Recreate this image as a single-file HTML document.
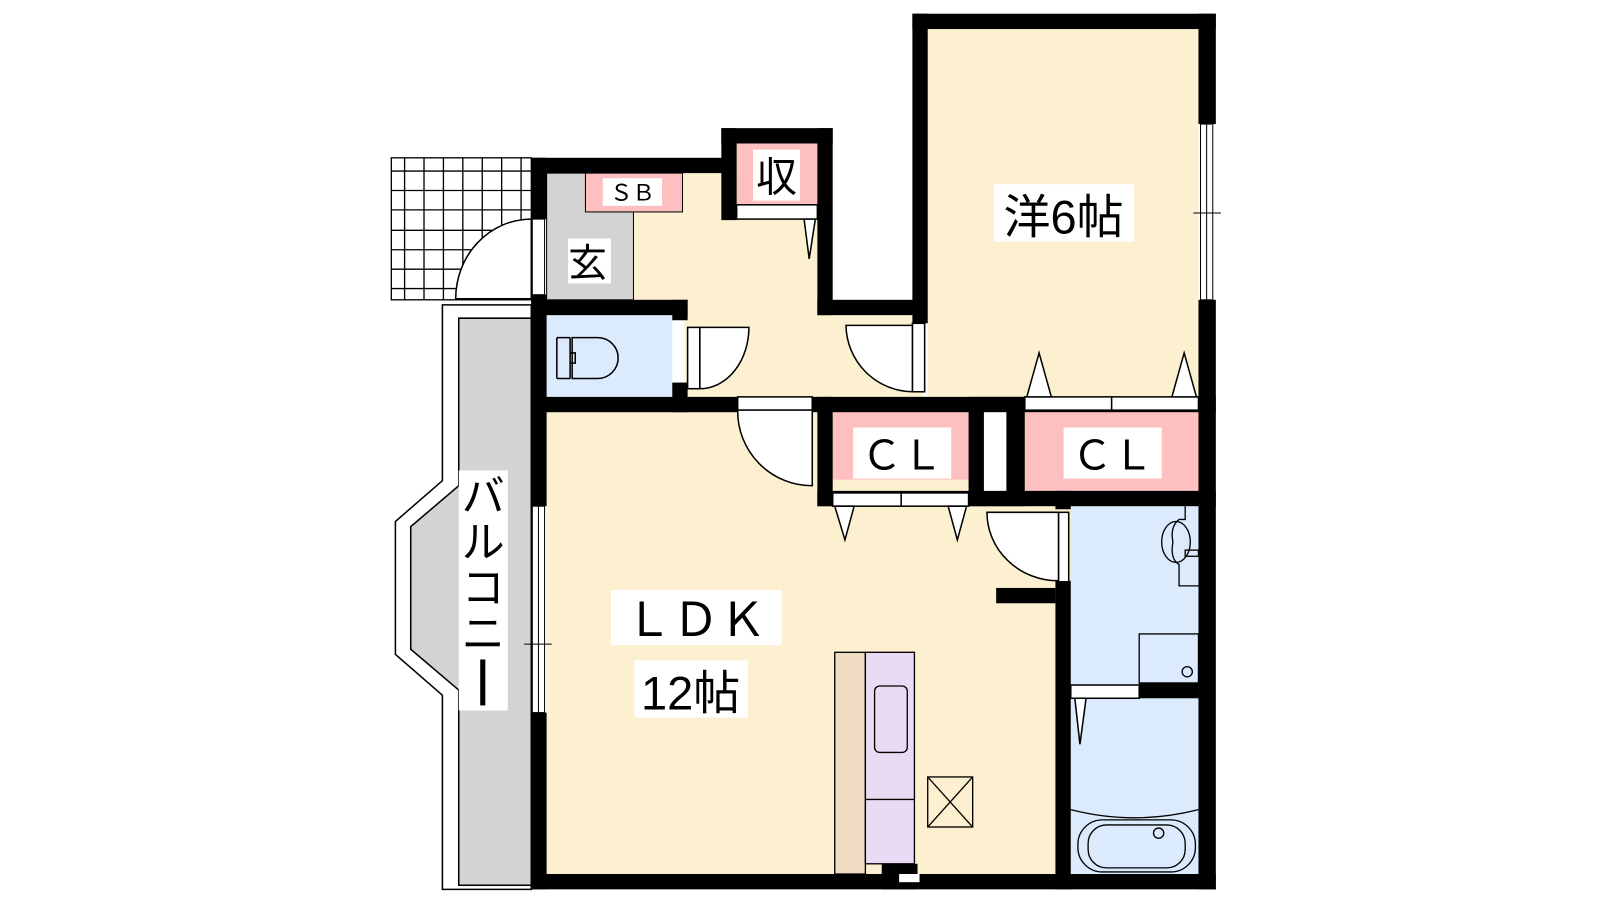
<!DOCTYPE html>
<html><head><meta charset="utf-8"><style>
html,body{margin:0;padding:0;background:#fff;width:1600px;height:900px;overflow:hidden}
text{font-family:"Liberation Sans","Noto Sans CJK JP",sans-serif}
</style></head><body>
<svg width="1600" height="900" viewBox="0 0 1566 880" xmlns="http://www.w3.org/2000/svg">
<!-- balcony -->
<polygon points="433,298 520,298 520,870 433,870 433,680 387,640 387,510 433,470" fill="#fff" stroke="#000" stroke-width="1.5"/>
<polygon points="449,311 520,311 520,866 449,866 449,675 402,635 402,515 449,475" fill="#d3d3d3" stroke="#000" stroke-width="1.5"/>
<!-- tile grid -->
<g stroke="#000" stroke-width="1.3" fill="#fff">
<rect x="383" y="154" width="137" height="139"/>
<path d="M396,154V293M415,154V293M434,154V293M453,154V293M472,154V293M491,154V293M510,154V293M383,167H520M383,186H520M383,205H520M383,225H520M383,244H520M383,263H520M383,282H520"/>
</g>
<!-- floors -->
<rect x="535" y="169" width="267" height="140" fill="#fdf0d0"/>
<rect x="908" y="28" width="265" height="360" fill="#fdf0d0"/>
<rect x="535" y="169" width="85" height="124" fill="#d3d3d3" stroke="#000" stroke-width="1"/>
<rect x="670" y="300" width="233" height="90" fill="#fdf0d0"/>
<rect x="535" y="403" width="498" height="452" fill="#fdf0d0"/>
<rect x="1033" y="495" width="140" height="360" fill="#fdf0d0"/>
<rect x="535" y="308" width="123" height="80" fill="#dbeafd"/>
<rect x="1048" y="495" width="125" height="360" fill="#dbeafd"/>
<!-- pink storage -->
<rect x="573" y="169" width="95" height="38" fill="#fdbfbf" stroke="#000" stroke-width="1"/>
<rect x="721" y="140" width="79" height="60" fill="#fdbfbf"/>
<rect x="815" y="403" width="133" height="66" fill="#fdbfbf"/>
<rect x="1003" y="403" width="170" height="77" fill="#fdbfbf"/>
<!-- walls -->
<g fill="#000">
<rect x="520" y="154" width="195" height="15"/>
<rect x="520" y="154" width="15" height="60"/>
<rect x="520" y="288" width="15" height="207"/>
<rect x="520" y="697" width="15" height="173"/>
<rect x="706" y="125" width="109" height="15"/>
<rect x="706" y="125" width="15" height="90"/>
<rect x="800" y="125" width="15" height="183"/>
<rect x="800" y="293" width="105" height="15"/>
<rect x="893" y="13" width="15" height="303"/>
<rect x="893" y="13" width="297" height="15"/>
<rect x="1173" y="13" width="17" height="108"/>
<rect x="1173" y="293" width="17" height="577"/>
<rect x="520" y="855" width="670" height="15"/>
<rect x="520" y="293" width="153" height="15"/>
<rect x="658" y="293" width="15" height="20"/>
<rect x="658" y="374" width="15" height="29"/>
<rect x="520" y="388" width="202" height="15"/>
<rect x="795" y="388" width="395" height="15"/>
<rect x="800" y="388" width="15" height="107"/>
<rect x="800" y="480" width="390" height="15"/>
<rect x="948" y="388" width="55" height="107"/>
<rect x="1033" y="480" width="15" height="18"/>
<rect x="1033" y="568" width="15" height="302"/>
<rect x="975" y="575" width="58" height="15"/>
<rect x="1115" y="668" width="58" height="15"/>
<rect x="863" y="845" width="35" height="25"/>
</g>
<rect x="963" y="403" width="22" height="77" fill="#fff"/>
<rect x="880" y="855" width="20" height="8" fill="#fff"/>
<!-- windows -->
<g fill="#fff" stroke="#000" stroke-width="1">
<rect x="1175" y="121" width="12" height="172"/>
<rect x="521" y="214" width="12" height="74"/>
<rect x="521" y="495" width="12" height="202"/>
</g>
<path d="M1181,121V293M527,495V697M1168,208H1195M513,630H540M1181,200V216M527,622V638" stroke="#000" stroke-width="1"/>
<!-- doors -->
<g fill="#fff" stroke="#000" stroke-width="1.5">
<path d="M520,214 V292 H446 A74,78 0 0 1 520,214Z"/>
<rect x="673" y="320" width="12" height="60"/>
<path d="M685,320 H733 A48,60 0 0 1 685,380Z"/>
<rect x="893" y="316" width="12" height="67"/>
<path d="M893,383 A66,66 0 0 1 828,318 H893Z"/>
<rect x="722" y="388" width="73" height="13"/>
<path d="M722,401 H795 V475 A73,73 0 0 1 722,401Z"/>
<rect x="1036" y="501" width="10" height="68"/>
<path d="M1036,501 H966 A70,67 0 0 0 1036,568Z"/>
<rect x="721" y="200" width="79" height="14"/>
<rect x="815" y="482" width="133" height="13"/>
<line x1="882" y1="482" x2="882" y2="495"/>
<rect x="1003" y="388" width="170" height="13"/>
<line x1="1088" y1="388" x2="1088" y2="401"/>
<rect x="1048" y="670" width="67" height="13"/>
<path d="M787,214 L792,253 L798,214Z"/>
<path d="M817,495 L827,528 L836,495Z"/>
<path d="M928,495 L937,528 L946,495Z"/>
<path d="M1005,388 L1017,345 L1029,388Z"/>
<path d="M1147,388 L1159,345 L1171,388Z"/>
<path d="M1052,683 L1057,728 L1063,683Z"/>
</g>
<!-- toilet -->
<g fill="none" stroke="#000" stroke-width="1.5">
<path d="M545,330 V370 M558,330 V370 M545,330 H558 M545,370 H558"/>
<path d="M560,330 H585 A20,20 0 0 1 585,370 H560 Z"/>
<path d="M558,345 h5 v10 h-5"/>
</g>
<!-- washroom -->
<g fill="none" stroke="#000" stroke-width="1.3">
<path d="M1160,495 V508 H1154 Q1145,515 1148,530 Q1145,547 1154,552 V573 H1173"/>
<ellipse cx="1151" cy="530" rx="14" ry="20"/>
<rect x="1160" y="538" width="13" height="6"/>
<rect x="1115" y="620" width="58" height="48"/>
<circle cx="1162" cy="657" r="5"/>
<path d="M1048,792 Q1110,808 1173,792"/>
<rect x="1055" y="802" width="115" height="51" rx="24"/>
<rect x="1065" y="807" width="95" height="42" rx="18"/>
<circle cx="1134" cy="815" r="5"/>
</g>
<!-- kitchen -->
<rect x="817" y="638" width="30" height="217" fill="#efdcc3" stroke="#000" stroke-width="1.3"/>
<rect x="847" y="638" width="48" height="207" fill="#ebdaf3" stroke="#000" stroke-width="1.3"/>
<line x1="847" y1="782" x2="895" y2="782" stroke="#000" stroke-width="1.3"/>
<rect x="856" y="671" width="32" height="65" rx="5" fill="none" stroke="#000" stroke-width="1.3"/>
<g fill="none" stroke="#000" stroke-width="1.3"><rect x="908" y="760" width="44" height="49"/><path d="M908,760 L952,809 M952,760 L908,809"/></g>
<!-- labels -->
<g font-size="40" text-anchor="middle">
<rect x="737" y="146" width="46" height="50" fill="#fff"/><text x="760" y="187">収</text>
<rect x="556" y="233" width="42" height="44" fill="#fff"/><text x="575" y="270" font-size="38">玄</text>
<rect x="590" y="174" width="58" height="27" fill="#fff"/><text x="619" y="196" font-size="22">ＳＢ</text>
<rect x="973" y="180" width="137" height="56" fill="#fff"/><text x="1041" y="228" font-size="46">洋6帖</text>
<rect x="835" y="418" width="96" height="50" fill="#fff"/><text x="883" y="459">ＣＬ</text>
<rect x="1041" y="418" width="96" height="50" fill="#fff"/><text x="1089" y="459">ＣＬ</text>
<rect x="598" y="577" width="167" height="54" fill="#fff"/><text x="681" y="622" font-size="46">ＬＤＫ</text>
<rect x="621" y="646" width="111" height="56" fill="#fff"/><text x="676" y="694" font-size="46">12帖</text>
<rect x="449" y="460" width="48" height="235" fill="#fff"/>
<text x="473" y="500" font-size="42">バ</text>
<text x="473" y="545" font-size="42">ル</text>
<text x="473" y="590" font-size="42">コ</text>
<text x="473" y="635" font-size="42">ニ</text>
<rect x="470" y="645" width="5" height="45" fill="#000"/>
</g>
</svg>
</body></html>
